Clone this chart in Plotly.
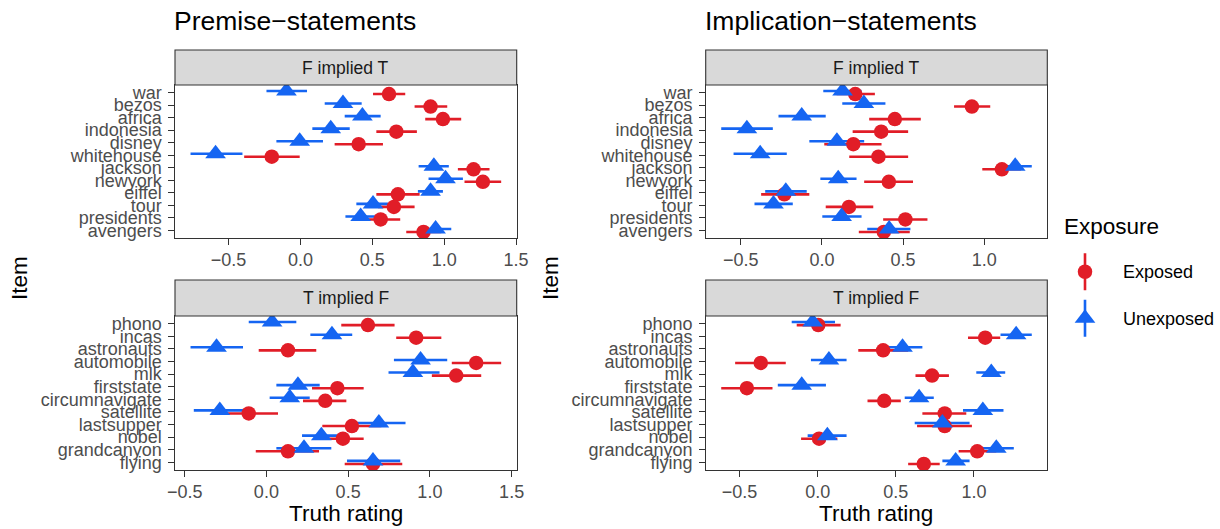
import plotly.graph_objects as go

W, H = 1220, 529

# ---------------- data ----------------
ft_items = ["war", "bezos", "africa", "indonesia", "disney", "whitehouse",
            "jackson", "newyork", "eiffel", "tour", "presidents", "avengers"]
tf_items = ["phono", "incas", "astronauts", "automobile", "mlk", "firststate",
            "circumnavigate", "satellite", "lastsupper", "nobel", "grandcanyon", "flying"]

# Premise-statements, F implied T
p_ft_exp_mean = [0.616, 0.905, 0.991, 0.667, 0.405, -0.199, 1.204, 1.269, 0.678, 0.650, 0.558, 0.856]
p_ft_exp_lo = [0.505, 0.794, 0.868, 0.528, 0.238, -0.391, 1.095, 1.141, 0.528, 0.539, 0.435, 0.736]
p_ft_exp_hi = [0.729, 1.021, 1.118, 0.810, 0.574, -0.005, 1.315, 1.396, 0.829, 0.794, 0.694, 0.979]
p_ft_une_mean = [-0.097, 0.296, 0.431, 0.211, -0.005, -0.590, 0.928, 1.009, 0.905, 0.505, 0.419, 0.940]
p_ft_une_lo = [-0.236, 0.169, 0.308, 0.083, -0.167, -0.764, 0.822, 0.891, 0.817, 0.389, 0.313, 0.840]
p_ft_une_hi = [0.046, 0.426, 0.558, 0.343, 0.157, -0.403, 1.032, 1.130, 0.991, 0.609, 0.528, 1.049]

# Implication-statements, F implied T
i_ft_exp_mean = [0.205, 0.924, 0.449, 0.365, 0.193, 0.348, 1.109, 0.412, -0.232, 0.166, 0.514, 0.381]
i_ft_exp_lo = [0.090, 0.814, 0.291, 0.189, 0.014, 0.168, 0.988, 0.260, -0.375, 0.023, 0.377, 0.227]
i_ft_exp_hi = [0.326, 1.037, 0.609, 0.531, 0.367, 0.531, 1.227, 0.561, -0.078, 0.316, 0.650, 0.541]
i_ft_une_mean = [0.127, 0.258, -0.125, -0.463, 0.092, -0.381, 1.191, 0.100, -0.223, -0.299, 0.121, 0.414]
i_ft_une_lo = [0.008, 0.125, -0.268, -0.621, -0.078, -0.545, 1.084, -0.010, -0.350, -0.416, 0.002, 0.279]
i_ft_une_hi = [0.244, 0.391, 0.023, -0.303, 0.260, -0.217, 1.293, 0.213, -0.094, -0.180, 0.244, 0.545]

# Premise-statements, T implied F
p_tf_exp_mean = [0.621, 0.916, 0.132, 1.283, 1.161, 0.434, 0.360, -0.108, 0.523, 0.468, 0.132, 0.652]
p_tf_exp_lo = [0.458, 0.794, -0.047, 1.134, 1.012, 0.279, 0.224, -0.270, 0.342, 0.346, -0.065, 0.479]
p_tf_exp_hi = [0.784, 1.070, 0.305, 1.436, 1.314, 0.595, 0.489, 0.071, 0.703, 0.595, 0.322, 0.831]
p_tf_une_mean = [0.035, 0.401, -0.305, 0.943, 0.896, 0.193, 0.143, -0.285, 0.688, 0.336, 0.230, 0.652]
p_tf_une_lo = [-0.108, 0.269, -0.464, 0.780, 0.747, 0.061, 0.020, -0.444, 0.530, 0.218, 0.061, 0.493]
p_tf_une_hi = [0.183, 0.525, -0.143, 1.106, 1.059, 0.326, 0.265, -0.122, 0.851, 0.462, 0.397, 0.819]

# Implication-statements, T implied F
i_tf_exp_mean = [0.004, 1.072, 0.419, -0.364, 0.732, -0.453, 0.426, 0.813, 0.813, 0.009, 1.021, 0.679]
i_tf_exp_lo = [-0.134, 0.962, 0.260, -0.528, 0.626, -0.617, 0.319, 0.670, 0.636, -0.106, 0.902, 0.579]
i_tf_exp_hi = [0.147, 1.168, 0.579, -0.204, 0.840, -0.289, 0.532, 0.951, 0.987, 0.126, 1.143, 0.781]
i_tf_une_mean = [-0.032, 1.270, 0.543, 0.072, 1.111, -0.102, 0.649, 1.057, 0.798, 0.062, 1.143, 0.883]
i_tf_une_lo = [-0.166, 1.170, 0.419, -0.043, 1.015, -0.255, 0.557, 0.930, 0.621, -0.064, 1.043, 0.798]
i_tf_une_hi = [0.111, 1.370, 0.670, 0.185, 1.200, 0.053, 0.743, 1.189, 0.972, 0.185, 1.255, 0.972]

exposure_levels = ["Exposed", "Unexposed"]
col_titles = ["Premise\u2212statements", "Implication\u2212statements"]
strip_labels = ["F implied T", "T implied F"]

# ---------------- style ----------------
FONT = "Liberation Sans, Arial, Helvetica, sans-serif"
RED = "#E11D27"
BLUE = "#1565F2"
DARK = "#333333"
TICKTXT = "#4D4D4D"
DODGE = 0.12

def px_x(p):
    return p / W

def px_y(p):
    return 1 - p / H

col_px = [(175, 516.7), (705.7, 1047.3)]
row_panel_px = [(85, 238), (316, 470)]
row_strip_px = [(50, 85), (280, 316)]

panels = [
    (0, 0, ft_items, (p_ft_exp_mean, p_ft_exp_lo, p_ft_exp_hi), (p_ft_une_mean, p_ft_une_lo, p_ft_une_hi)),
    (0, 1, ft_items, (i_ft_exp_mean, i_ft_exp_lo, i_ft_exp_hi), (i_ft_une_mean, i_ft_une_lo, i_ft_une_hi)),
    (1, 0, tf_items, (p_tf_exp_mean, p_tf_exp_lo, p_tf_exp_hi), (p_tf_une_mean, p_tf_une_lo, p_tf_une_hi)),
    (1, 1, tf_items, (i_tf_exp_mean, i_tf_exp_lo, i_tf_exp_hi), (i_tf_une_mean, i_tf_une_lo, i_tf_une_hi)),
]

fig = go.Figure()
layout = dict(
    width=W, height=H,
    margin=dict(l=0, r=0, t=0, b=0, autoexpand=False),
    paper_bgcolor="white", plot_bgcolor="white",
    showlegend=False,
    font=dict(family=FONT, color="black"),
)
shapes = []
annotations = []

styles = {
    "Exposed": dict(color=RED, symbol="circle", size=14.5, off=DODGE),
    "Unexposed": dict(color=BLUE, symbol="triangle-up", size=18, off=-DODGE),
}

for k, (r, c, items, exp, une) in enumerate(panels):
    n = k + 1
    xa = "x" if n == 1 else f"x{n}"
    ya = "y" if n == 1 else f"y{n}"
    series = {"Exposed": exp, "Unexposed": une}
    # error bars first (under all points)
    for lev in exposure_levels:
        m, lo, hi = series[lev]
        st = styles[lev]
        yy = [i + st["off"] for i in range(len(items))]
        fig.add_trace(go.Scatter(
            x=m, y=yy, xaxis=xa, yaxis=ya, mode="markers",
            marker=dict(size=1, opacity=0),
            error_x=dict(type="data", symmetric=False,
                         array=[h - v for h, v in zip(hi, m)],
                         arrayminus=[v - l for v, l in zip(m, lo)],
                         color=st["color"], thickness=2.6, width=0),
            hoverinfo="skip"))
    for lev in exposure_levels:
        m, lo, hi = series[lev]
        st = styles[lev]
        yy = [i + st["off"] for i in range(len(items))]
        fig.add_trace(go.Scatter(
            x=m, y=yy, xaxis=xa, yaxis=ya, mode="markers", name=lev,
            marker=dict(color=st["color"], symbol=st["symbol"], size=st["size"],
                        line=dict(width=0))))

    allv = list(exp[1]) + list(exp[2]) + list(une[1]) + list(une[2])
    lo_v, hi_v = min(allv), max(allv)
    ext = 0.05 * (hi_v - lo_v)
    x0p, x1p = col_px[c]
    y0p, y1p = row_panel_px[r]
    key_x = "xaxis" if n == 1 else f"xaxis{n}"
    key_y = "yaxis" if n == 1 else f"yaxis{n}"
    layout[key_x] = dict(
        domain=[px_x(x0p), px_x(x1p)], anchor=ya, automargin=False,
        range=[lo_v - ext, hi_v + ext],
        tick0=0, dtick=0.5, tickformat=".1f",
        showgrid=False, zeroline=False,
        showline=True, mirror=True, linecolor=DARK, linewidth=1.1,
        ticks="outside", ticklen=5.5, tickwidth=1.1, tickcolor=DARK,
        tickfont=dict(family=FONT, size=18, color=TICKTXT),
    )
    layout[key_y] = dict(
        domain=[px_y(y1p), px_y(y0p)], anchor=xa, automargin=False,
        range=[len(items) - 1 + 0.6, -0.6],
        tickmode="array", tickvals=list(range(len(items))), ticktext=items,
        showgrid=False, zeroline=False,
        showline=True, mirror=True, linecolor=DARK, linewidth=1.1,
        ticks="outside", ticklen=5.5, tickwidth=1.1, tickcolor=DARK,
        tickfont=dict(family=FONT, size=18, color=TICKTXT),
        ticklabelstandoff=3,
    )
    # strip
    s0, s1 = row_strip_px[r]
    shapes.append(dict(type="rect", xref="paper", yref="paper",
                       x0=px_x(x0p), x1=px_x(x1p), y0=px_y(s1), y1=px_y(s0),
                       fillcolor="#D9D9D9", line=dict(color=DARK, width=1.1), layer="above"))
    annotations.append(dict(text=strip_labels[r], xref="paper", yref="paper",
                            x=px_x((x0p + x1p) / 2), y=px_y((s0 + s1) / 2),
                            xanchor="center", yanchor="middle", showarrow=False,
                            font=dict(family=FONT, size=17.5, color="#1A1A1A")))

# column titles, axis titles
for c in range(2):
    x0p, x1p = col_px[c]
    annotations.append(dict(text=col_titles[c], xref="paper", yref="paper",
                            x=px_x(x0p - 3), y=px_y(21), xanchor="left", yanchor="middle",
                            showarrow=False, font=dict(family=FONT, size=26.5, color="black")))
    annotations.append(dict(text="Truth rating", xref="paper", yref="paper",
                            x=px_x((x0p + x1p) / 2), y=px_y(513), xanchor="center", yanchor="middle",
                            showarrow=False, font=dict(family=FONT, size=22.5, color="black")))
    annotations.append(dict(text="Item", xref="paper", yref="paper",
                            x=px_x([19, 550][c]), y=px_y(278), xanchor="center", yanchor="middle",
                            textangle=-90, showarrow=False,
                            font=dict(family=FONT, size=22.5, color="black")))

# ---------------- legend (drawn with its own small axes) ----------------
for j, lev in enumerate(exposure_levels):
    st = styles[lev]
    fig.add_trace(go.Scatter(
        x=[0], y=[j], xaxis="x5", yaxis="y5", mode="markers",
        marker=dict(color=st["color"], symbol=st["symbol"], size=st["size"], line=dict(width=0)),
        error_y=dict(type="constant", value=0.4, color=st["color"], thickness=2.6, width=0),
        hoverinfo="skip"))
    annotations.append(dict(text=lev, xref="paper", yref="paper",
                            x=px_x(1121), y=px_y(272 + 46.5 * j), xanchor="left", yanchor="middle",
                            showarrow=False, font=dict(family=FONT, size=18, color="black")))
annotations.append(dict(text="Exposure", xref="paper", yref="paper",
                        x=px_x(1062), y=px_y(226), xanchor="left", yanchor="middle",
                        showarrow=False, font=dict(family=FONT, size=22.5, color="black")))
layout["xaxis5"] = dict(domain=[px_x(1060), px_x(1110)], range=[-1, 1], anchor="y5",
                        visible=False, fixedrange=True)
layout["yaxis5"] = dict(domain=[px_y(341.5), px_y(248.5)], range=[1.5, -0.5], anchor="x5",
                        visible=False, fixedrange=True)

layout["shapes"] = shapes
layout["annotations"] = annotations
fig.update_layout(**layout)
fig.write_html("out.html", config={"displayModeBar": False},
               post_script="document.body.style.margin='0';document.body.style.overflow='hidden';")
